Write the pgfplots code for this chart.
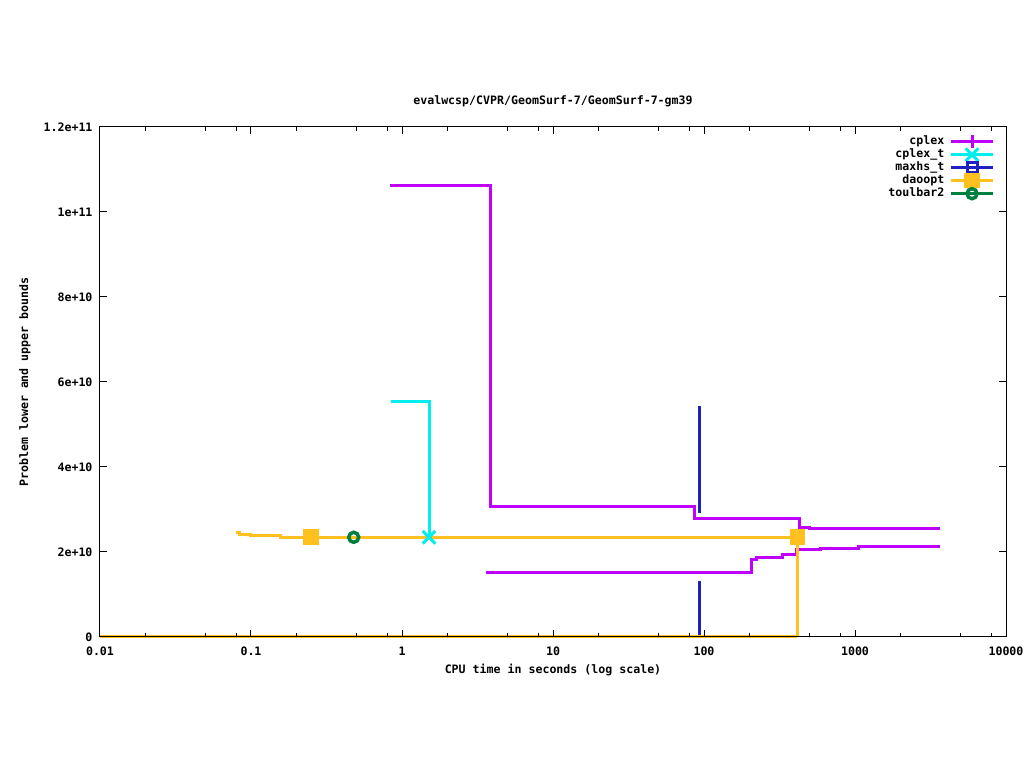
\documentclass[border=0pt]{standalone}
\usepackage{fontspec}
\setmainfont{DejaVu Sans Mono}
\usepackage{pgfplots}
\pgfplotsset{compat=1.18}
\definecolor{cpx}{HTML}{C000FF}
\definecolor{cpxt}{HTML}{00EEEE}
\definecolor{mhs}{HTML}{2020C0}
\definecolor{dao}{HTML}{FFC020}
\definecolor{tb2}{HTML}{008040}
\begin{document}
\begin{tikzpicture}
\useasboundingbox (0,0) rectangle (1024bp,768bp);
\begin{axis}[
  at={(100bp,131bp)}, anchor=south west,
  scale only axis, width=906bp, height=510bp,
  xmode=log, xmin=0.01, xmax=10000, ymin=0, ymax=1.2e11,
  clip=false, axis on top,
  font=\bfseries\fontsize{11.6bp}{14bp}\selectfont,
  /pgf/number format/assume math mode=true,
  xtick={0.01,0.1,1,10,100,1000,10000},
  xticklabels={0.01,0.1,1,10,100,1000,10000},
  minor xtick={0.02,0.05,0.08,0.2,0.5,0.8,2,5,8,20,50,80,200,500,800,2000,5000,8000},
  ytick={0,2e10,4e10,6e10,8e10,1e11,1.2e11},
  yticklabels={0,2e+10,4e+10,6e+10,8e+10,1e+11,1.2e+11},
  scaled y ticks=false,
  major tick length=7bp, minor tick length=4bp,
  every tick/.style={black, line width=1bp},
  axis line style={line width=1bp},
  xticklabel style={anchor=center, yshift=-14bp},
  yticklabel style={anchor=east, xshift=-4bp},
  title={evalwcsp/CVPR/GeomSurf-7/GeomSurf-7-gm39},
  title style={at={(axis description cs:0.5,1.0392)}, anchor=center},
  xlabel={CPU time in seconds (log scale)},
  xlabel style={at={(axis description cs:0.5,-0.0647)}, anchor=center},
  ylabel={Problem lower and upper bounds},
  ylabel style={at={(axis description cs:-0.0828,0.5)}, anchor=center, rotate=0},
  legend plot pos=right,
  legend cell align=right,
  legend style={at={(axis description cs:1,1)}, anchor=north east, xshift=-11bp, yshift=-8bp,
    draw=none, fill=none, inner sep=0pt, column sep=5bp, row sep=0pt,
    nodes={inner sep=0pt, text height=9.5bp, text depth=3.5bp}},
  legend image code/.code={\draw[#1,mark repeat=2,mark phase=2] plot coordinates {(0bp,0bp)(21bp,0bp)(42bp,0bp)};},
  every axis plot/.append style={line width=3bp, sharp plot},
]
% cplex upper
\addplot[cpx, no marks, forget plot] coordinates {(0.835,1.0635e11)(3.88,1.0635e11)(3.88,3.06e10)(86,3.06e10)(86,2.79e10)(426,2.79e10)(426,2.58e10)(503,2.58e10)(503,2.56e10)(3656,2.56e10)};
% cplex lower
\addplot[cpx, no marks, forget plot] coordinates {(3.6,1.51e10)(205,1.51e10)(205,1.835e10)(223,1.835e10)(223,1.87e10)(329,1.87e10)(329,1.93e10)(407,1.93e10)(407,2.06e10)(587,2.06e10)(587,2.09e10)(1062,2.09e10)(1062,2.12e10)(3656,2.12e10)};
% cplex_t
\addplot[cpxt, no marks, forget plot] coordinates {(0.85,5.55e10)(1.51,5.55e10)(1.51,2.346e10)};
\addplot[cpxt, only marks, mark=x, mark size=9bp, forget plot] coordinates {(1.51,2.346e10)};
% maxhs_t
\addplot[mhs, no marks, forget plot] coordinates {(94,5.435e10)(94,2.925e10)};
\addplot[mhs, no marks, forget plot] coordinates {(94,0)(94,1.32e10)};
% daoopt
\addplot[dao, no marks, forget plot] coordinates {(0.0796,2.455e10)(0.0833,2.455e10)(0.0833,2.40e10)(0.1,2.40e10)(0.1,2.385e10)(0.158,2.385e10)(0.158,2.346e10)(415,2.346e10)(415,0)};
\addplot[dao, no marks, forget plot] coordinates {(0.01,0)(415,0)};
\addplot[dao, only marks, mark=square*, mark size=6.3bp, forget plot] coordinates {(0.25,2.346e10)(415,2.346e10)};
% toulbar2
\addplot[tb2, only marks, mark=o, mark size=5bp, line width=3.5bp, forget plot] coordinates {(0.479,2.346e10)};
\addlegendimage{cpx, line width=3bp, mark=+, mark size=6.5bp}
\addlegendentry{cplex}
\addlegendimage{cpxt, line width=3bp, mark=x, mark size=9bp}
\addlegendentry{cplex\_t}
\addlegendimage{mhs, line width=3bp, mark=square, mark size=5bp}
\addlegendentry{maxhs\_t}
\addlegendimage{dao, line width=3bp, mark=square*, mark size=6.3bp}
\addlegendentry{daoopt}
\addlegendimage{tb2, line width=3.5bp, mark=o, mark size=5bp}
\addlegendentry{toulbar2}
\end{axis}
\end{tikzpicture}
\end{document}
